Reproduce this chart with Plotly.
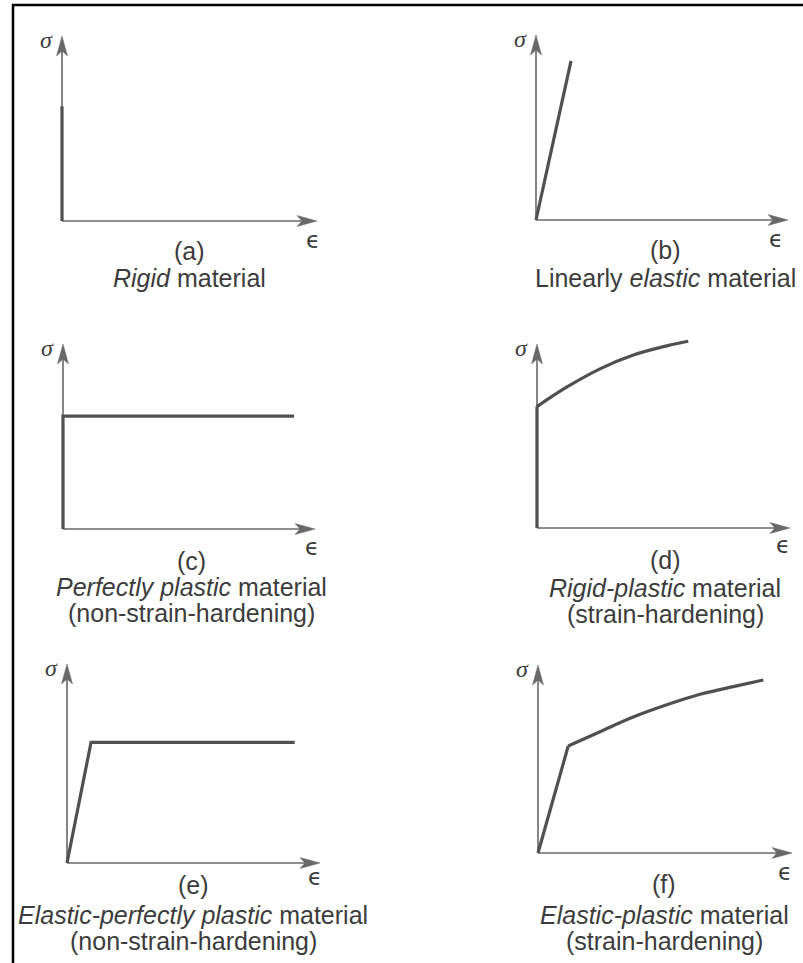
import plotly.graph_objects as go

W, H = 803, 963

# ---------------- data (strain eps, stress sigma; axis tips at 1.0) ----------------
eps_a = [0, 0]
sig_a = [0, 0.62]

eps_b = [0, 0.139]
sig_b = [0, 0.86]

eps_c = [0, 0, 0.917]
sig_c = [0, 0.61, 0.61]

eps_d_rigid = [0, 0]
sig_d_rigid = [0, 0.66]
eps_d_hard = [0, 0.117, 0.249, 0.381, 0.513, 0.598]
sig_d_hard = [0.66, 0.765, 0.865, 0.940, 0.990, 1.015]

eps_e = [0, 0.095, 0.90]
sig_e = [0, 0.606, 0.606]

eps_f_elastic = [0, 0.119]
sig_f_elastic = [0, 0.569]
eps_f_hard = [0.119, 0.244, 0.375, 0.507, 0.638, 0.769, 0.887]
sig_f_hard = [0.569, 0.645, 0.723, 0.788, 0.844, 0.885, 0.920]

panel_letters = ["(a)", "(b)", "(c)", "(d)", "(e)", "(f)"]
caption_line1 = [
    "<i>Rigid</i> material",
    "Linearly <i>elastic</i> material",
    "<i>Perfectly plastic</i> material",
    "<i>Rigid-plastic</i> material",
    "<i>Elastic-perfectly plastic</i> material",
    "<i>Elastic-plastic</i> material",
]
caption_line2 = [
    "",
    "",
    "(non-strain-hardening)",
    "(strain-hardening)",
    "(non-strain-hardening)",
    "(strain-hardening)",
]
sigma_label = "<i>σ</i>"
eps_label = "ϵ"

# ---------------- layout geometry (pixels) ----------------
# origin x, origin y, x-axis tip x, y-axis tip y
geom = [
    (62, 221, 317, 36),
    (536, 220, 788, 35),
    (63, 529, 315, 344),
    (537, 528, 790, 344),
    (67, 863, 320, 664),
    (538, 853, 792, 665),
]
# caption positions: center x, y of letter, line1, line2
cap_pos = [
    (189, 251, 278, None),
    (665, 250, 278, None),
    (191, 561, 587, 613),
    (665, 560, 588, 614),
    (193, 885, 915, 941),
    (664, 884, 915, 941),
]
eps_shift = [(-4, -19), (-12, -19), (-3, -18), (-7, -17), (-5, -14), (-7, -19)]

PADL, PADR, PADB, PADT = 0.05, 0.04, 0.05, 0.1

CURVE = "#505050"
AXIS = "#686868"
TEXT = "#3c3c3c"

fig = go.Figure()

series = [
    [(eps_a, sig_a, "linear")],
    [(eps_b, sig_b, "linear")],
    [(eps_c, sig_c, "linear")],
    [(eps_d_rigid, sig_d_rigid, "linear"), (eps_d_hard, sig_d_hard, "spline")],
    [(eps_e, sig_e, "linear")],
    [(eps_f_elastic, sig_f_elastic, "linear"), (eps_f_hard, sig_f_hard, "spline")],
]

shapes = []
annotations = []
layout_axes = {}

for i, (ox, oy, tx, ty) in enumerate(geom):
    n = "" if i == 0 else str(i + 1)
    xr, yr = "x" + n, "y" + n
    sx = tx - ox
    sy = oy - ty
    x0p = ox - PADL * sx
    x1p = tx + PADR * sx
    y0p = oy + PADB * sy  # bottom pixel
    y1p = ty - PADT * sy  # top pixel
    layout_axes["xaxis" + n] = dict(
        domain=[x0p / W, x1p / W], range=[-PADL, 1 + PADR], anchor=yr,
        visible=False, fixedrange=True,
    )
    layout_axes["yaxis" + n] = dict(
        domain=[1 - y0p / H, 1 - y1p / H], range=[-PADB, 1 + PADT], anchor=xr,
        visible=False, fixedrange=True,
    )

    # axes lines
    shapes.append(dict(type="line", xref=xr, yref=yr, x0=0, y0=0, x1=0.96, y1=0,
                       line=dict(color=AXIS, width=1.6), layer="below"))
    shapes.append(dict(type="line", xref=xr, yref=yr, x0=0, y0=0, x1=0, y1=0.96,
                       line=dict(color=AXIS, width=1.6), layer="below"))
    # arrow heads (pixel-sized paths anchored at the tips)
    shapes.append(dict(type="path", xref=xr, yref=yr, xsizemode="pixel", ysizemode="pixel",
                       xanchor=1, yanchor=0,
                       path="M0,0 L-20,5.5 L-15,0 L-20,-5.5 Z",
                       fillcolor=AXIS, line=dict(color=AXIS, width=0.5)))
    shapes.append(dict(type="path", xref=xr, yref=yr, xsizemode="pixel", ysizemode="pixel",
                       xanchor=0, yanchor=1,
                       path="M0,0 L5.5,-20 L0,-15 L-5.5,-20 Z",
                       fillcolor=AXIS, line=dict(color=AXIS, width=0.5)))

    for xs, ys, shp in series[i]:
        fig.add_trace(go.Scatter(
            x=xs, y=ys, xaxis=xr, yaxis=yr, mode="lines",
            line=dict(color=CURVE, width=3.2, shape=shp, smoothing=1.0),
            hoverinfo="skip", showlegend=False,
        ))

    # sigma / epsilon labels
    annotations.append(dict(xref=xr, yref=yr, x=0, y=1, text=sigma_label, showarrow=False,
                            xshift=-16, yshift=-4,
                            font=dict(family="Liberation Serif", size=24, color=TEXT)))
    annotations.append(dict(xref=xr, yref=yr, x=1, y=0, text=eps_label, showarrow=False,
                            xshift=eps_shift[i][0], yshift=eps_shift[i][1],
                            font=dict(family="DejaVu Sans", size=23, color=TEXT)))

    cx, yl, y1, y2 = cap_pos[i]
    capfont = dict(family="Liberation Sans", size=25, color=TEXT)
    annotations.append(dict(xref="paper", yref="paper", x=cx / W, y=1 - yl / H,
                            text=panel_letters[i], showarrow=False,
                            xanchor="center", yanchor="middle", font=capfont))
    annotations.append(dict(xref="paper", yref="paper", x=cx / W, y=1 - y1 / H,
                            text=caption_line1[i], showarrow=False,
                            xanchor="center", yanchor="middle", font=capfont))
    if y2 is not None:
        annotations.append(dict(xref="paper", yref="paper", x=cx / W, y=1 - y2 / H,
                                text=caption_line2[i], showarrow=False,
                                xanchor="center", yanchor="middle", font=capfont))

# frame lines (top and left) of the scanned figure
shapes.append(dict(type="line", xref="paper", yref="paper", x0=12 / W, x1=1.0,
                   y0=1 - 5 / H, y1=1 - 5 / H, line=dict(color="black", width=2.5)))
shapes.append(dict(type="line", xref="paper", yref="paper", x0=13 / W, x1=13 / W,
                   y0=1 - 4 / H, y1=0, line=dict(color="black", width=2.5)))

fig.update_layout(
    width=W, height=H,
    margin=dict(l=0, r=0, t=0, b=0),
    paper_bgcolor="white", plot_bgcolor="rgba(0,0,0,0)",
    shapes=shapes, annotations=annotations,
    showlegend=False,
    **layout_axes,
)

fig.write_html(
    "out.html",
    config={"displayModeBar": False, "staticPlot": True},
    post_script="document.body.style.margin='0';document.body.style.padding='0';"
                "document.documentElement.style.overflow='hidden';",
)
